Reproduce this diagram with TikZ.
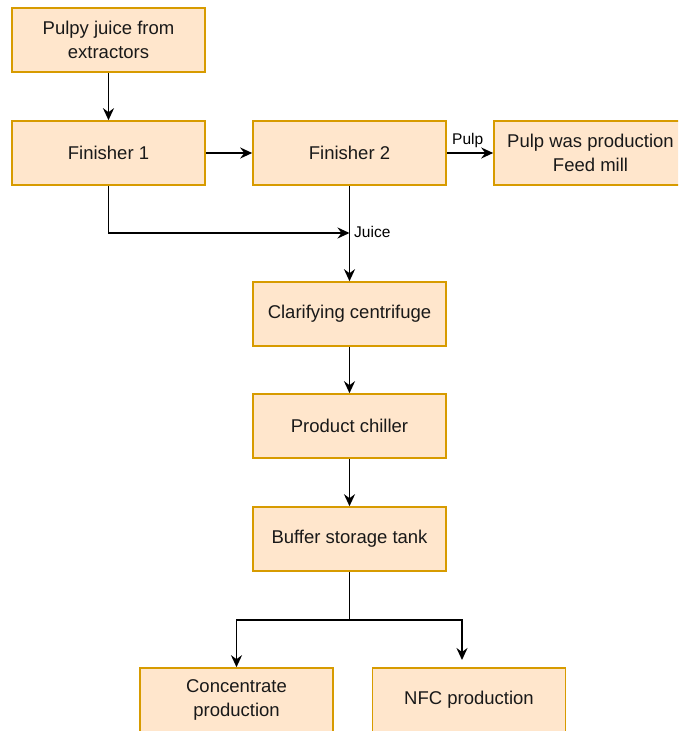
\documentclass[tikz,border=0pt]{standalone}
\usepackage{fontspec}
\setmainfont{Liberation Sans}
\usetikzlibrary{arrows.meta,calc}
\definecolor{boxfill}{HTML}{FFE6CC}
\definecolor{boxdraw}{HTML}{D79B00}
\begin{document}
\begin{tikzpicture}[x=1pt,y=-1pt,
  procbox/.style={draw=boxdraw,fill=boxfill,line width=1.6pt,minimum width=193pt,minimum height=64pt,
    inner sep=0pt,align=center,font=\fontsize{18.5}{24}\selectfont,text=black!90},
  flow/.style={line width=1.9pt,-{Stealth[length=12pt,width=11pt,inset=4pt]}},
  lbl/.style={font=\fontsize{15.5}{18}\selectfont,inner sep=1pt}]
\useasboundingbox (0,0) rectangle (678,731);
\clip (0,0) rectangle (678,731);
\node[procbox] (src) at (108.5,40) {Pulpy juice from\\extractors};
\node[procbox] (f1) at (108.5,153) {Finisher 1};
\node[procbox] (f2) at (349.5,153) {Finisher 2};
\node[procbox] (pulp) at (590.5,153) {Pulp was production\\Feed mill};
\node[procbox] (cc) at (349.5,314) {Clarifying centrifuge};
\node[procbox] (pc) at (349.5,426) {Product chiller};
\node[procbox] (bt) at (349.5,539) {Buffer storage tank};
\node[procbox] (conc) at (236.5,700) {Concentrate\\production};
\node[procbox] (nfc) at (469,700) {NFC production};
\coordinate (jn) at (349.5,233);
\coordinate (split) at (349.5,620);
\coordinate (nfcend) at (462,660);
\draw[flow] (src) -- (f1);
\draw[flow] (f1) -- (f2);
\draw[flow] (f2) -- node[lbl,above,pos=0.45,yshift=3pt] (pulplbl) {Pulp} (pulp);
\draw[flow] (f2) -- (cc);
\draw[flow] (f1.south) |- (jn);
\node[lbl,anchor=west] (juicelbl) at (353,232) {Juice};
\draw[flow] (cc) -- (pc);
\draw[flow] (pc) -- (bt);
\draw[line width=1.9pt] (bt.south) -- (split);
\draw[flow] (split) -| (conc.north);
\draw[flow] (split) -| (nfcend);
\end{tikzpicture}
\end{document}
